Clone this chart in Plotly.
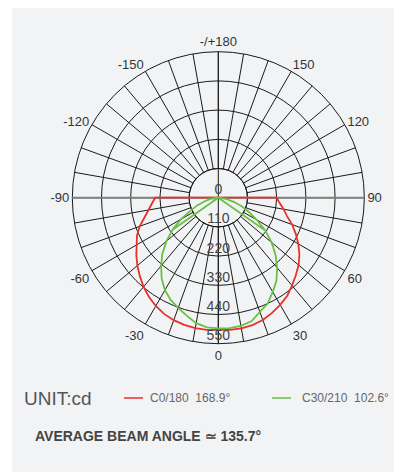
import plotly.graph_objects as go

# luminous intensity (cd), gamma -90..90 in 5 deg steps
gamma = [-90, -85, -80, -75, -70, -65, -60, -55, -50, -45, -40, -35, -30, -25, -20, -15, -10, -5, 0,
         5, 10, 15, 20, 25, 30, 35, 40, 45, 50, 55, 60, 65, 70, 75, 80, 85, 90]
c0_180 = [238, 251, 267, 288, 315, 338, 355, 377, 398, 418, 438, 456, 471, 483, 491, 496, 499, 500, 498,
          500, 500, 497, 490, 479, 466, 452, 432, 413, 395, 373, 348, 322, 296, 268, 250, 232, 220]
c30_210 = [0, 13, 32, 55, 85, 115, 162, 210, 255, 298, 335, 372, 402, 425, 442, 460, 480, 490, 492,
           493, 490, 482, 458, 440, 410, 382, 345, 305, 262, 216, 168, 127, 92, 60, 35, 15, 0]

ring_vals = [0, 110, 220, 330, 440, 550]
ring_text = ['0', '110', '220', '330', '440', '550']
ang_vals = [0, 10, 20, 30, 40, 50, 60, 70, 80, 90, 100, 110, 120, 130, 140, 150, 160, 170, 180,
            190, 200, 210, 220, 230, 240, 250, 260, 270, 280, 290, 300, 310, 320, 330, 340, 350]
ang_labels = {0: '0', 30: '30', 60: '60', 90: '90', 120: '120', 150: '150', 180: '-/+180',
              210: '-150', 240: '-120', 270: '-90', 300: '-60', 330: '-30'}

names = ['C0/180\u00a0\u00a0168.9°', 'C30/210\u00a0\u00a0102.6°']

RED = '#e8312f'
GREEN = '#6cbf45'
FONT = 'Liberation Sans, Arial, sans-serif'

# the page body has an 8px margin, so the figure is a bit smaller than the window
OFF = 8
W, H = 402 - OFF, 472 - OFF


def px(x):
    return (x - OFF) / W


def py(y):
    return 1 - (y - OFF) / H


fig = go.Figure()

# empty traces so the two grid layers get drawn
fig.add_trace(go.Scatterpolar(r=[], theta=[], subplot='polar', showlegend=False))
fig.add_trace(go.Scatterpolar(r=[], theta=[], subplot='polar2', showlegend=False))

# C0/180: from centre, round the curve, back to centre
red_r = [0] + c0_180 + [0]
red_t = [gamma[0]] + gamma + [gamma[-1]]
fig.add_trace(go.Scatterpolar(r=red_r, theta=red_t, mode='lines', subplot='polar3',
                              line=dict(color=RED, width=1.8), name=names[0],
                              showlegend=False, hoverinfo='skip'))

# C30/210: drawn with the two straight strokes from the centre to +/-55
i55 = gamma.index(55)
im55 = gamma.index(-55)
g_t = gamma[i55:] + gamma[im55::-1] + gamma[i55:im55 - 1:-1]
g_r = c30_210[i55:] + c30_210[im55::-1] + c30_210[i55:im55 - 1:-1]
fig.add_trace(go.Scatterpolar(r=g_r, theta=g_t, mode='lines', subplot='polar3',
                              line=dict(color=GREEN, width=1.8), name=names[1],
                              showlegend=False, hoverinfo='skip'))

# intensity labels along the 0 direction
fig.add_trace(go.Scatterpolar(r=ring_vals, theta=[0] * len(ring_vals), mode='text', text=ring_text,
                              textposition=['top center'] * 6, subplot='polar3',
                              textfont=dict(family=FONT, size=14, color='#444'),
                              showlegend=False, hoverinfo='skip'))

# polar centre (218.3, 197.7), radius 146 in window pixels
cx, cy, rad = 218.3, 197.7, 146
dom = dict(x=[px(cx - rad), px(cx + rad)], y=[py(cy + rad), py(cy - rad)])
common = dict(domain=dom, bgcolor='rgba(0,0,0,0)')

# legend drawn by hand: sample line + label
legend_shapes = []
legend_notes = []
for (x0, tx), col, nm in zip([(124, 148), (272, 300)], [RED, GREEN], names):
    legend_shapes.append(dict(type='line', xref='paper', yref='paper', x0=px(x0), x1=px(x0 + 19),
                              y0=py(398), y1=py(398), line=dict(color=col, width=1.5)))
    legend_notes.append(dict(text=nm, xref='paper', yref='paper', x=px(tx), y=py(398),
                             xanchor='left', yanchor='middle', showarrow=False,
                             font=dict(family=FONT, size=12, color='#666')))

fig.update_layout(
    width=W, height=H,
    margin=dict(l=0, r=0, t=0, b=0),
    paper_bgcolor='white',
    showlegend=False,
    font=dict(family=FONT, color='#333'),
    # spokes every 10 deg from the inner ring, rings 220..550
    polar=dict(**common, hole=0.2,
               angularaxis=dict(rotation=-90, direction='counterclockwise', tickmode='array',
                                tickvals=ang_vals, ticktext=[ang_labels.get(a, '') for a in ang_vals],
                                showgrid=True, gridcolor='#1a1a1a', gridwidth=1, ticks='',
                                showline=True, linecolor='#1a1a1a', linewidth=1,
                                tickfont=dict(family=FONT, size=13, color='#333')),
               radialaxis=dict(range=[110, 550], tickmode='array', tickvals=[220, 330, 440],
                               showgrid=True, gridcolor='#1a1a1a', gridwidth=1, showline=False,
                               showticklabels=False, ticks='')),
    # inner ring and the 0/180 line through the centre
    polar2=dict(**common,
                angularaxis=dict(rotation=-90, direction='counterclockwise', tickmode='array',
                                 tickvals=[0, 180], showgrid=True, gridcolor='#1a1a1a', gridwidth=1,
                                 showticklabels=False, ticks='', showline=False),
                radialaxis=dict(range=[0, 550], tickmode='array', tickvals=[110], showgrid=True,
                                gridcolor='#1a1a1a', gridwidth=1, showline=False,
                                showticklabels=False, ticks='')),
    # grey -90/90 line and the data
    polar3=dict(**common,
                angularaxis=dict(rotation=-90, direction='counterclockwise', tickmode='array',
                                 tickvals=[90, 270], showgrid=True, gridcolor='#808080', gridwidth=2,
                                 showticklabels=False, ticks='', showline=False),
                radialaxis=dict(range=[0, 550], showgrid=False, showline=False,
                                showticklabels=False, ticks='')),
    shapes=[dict(type='rect', xref='paper', yref='paper', x0=px(12), x1=1, y0=0, y1=1,
                 fillcolor='#f2f3f5', line=dict(width=0), layer='below')] + legend_shapes,
    annotations=[
        dict(text='UNIT:cd', xref='paper', yref='paper', x=px(22), y=py(398),
             xanchor='left', yanchor='middle', showarrow=False,
             font=dict(family=FONT, size=19, color='#555')),
        dict(text='<b>AVERAGE BEAM ANGLE ≃ 135.7°</b>', xref='paper', yref='paper',
             x=px(33), y=py(436), xanchor='left', yanchor='middle', showarrow=False,
             font=dict(family=FONT, size=14, color='#444')),
    ] + legend_notes,
)

fig.write_html("out.html")
